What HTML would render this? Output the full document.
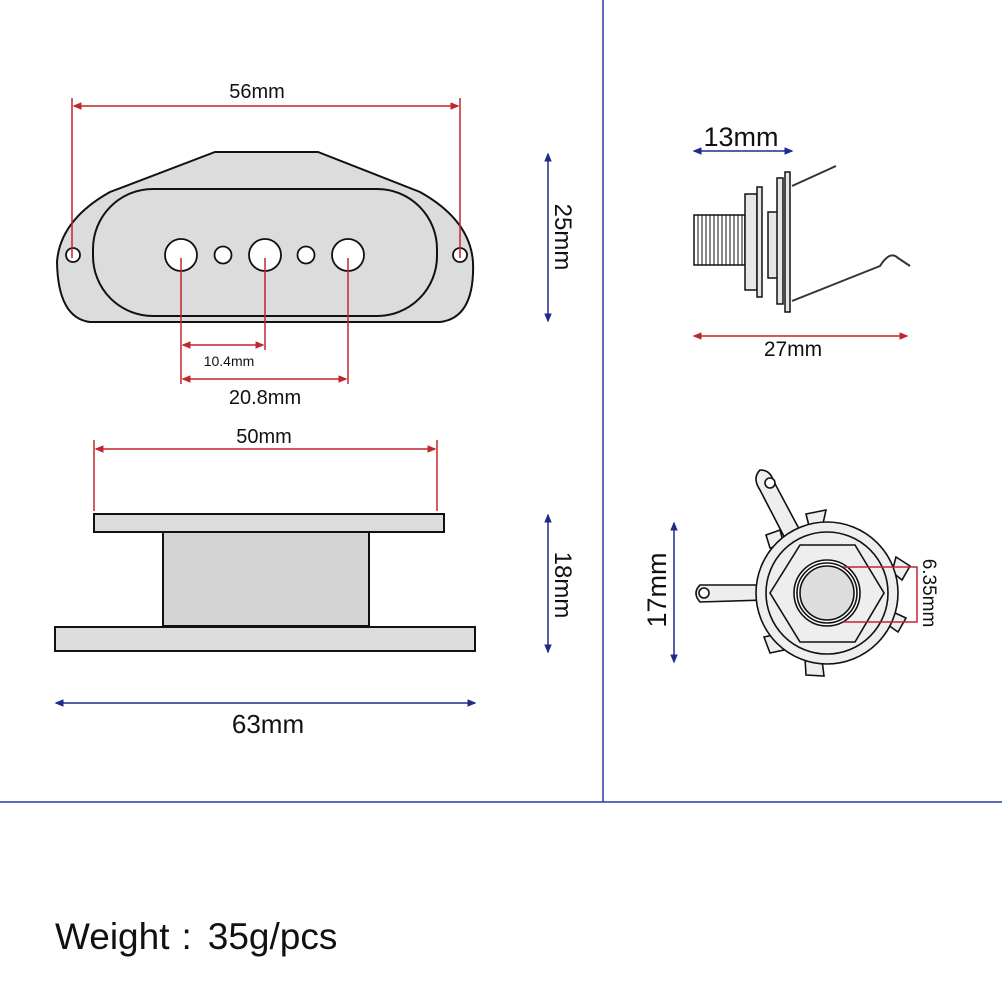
<!DOCTYPE html>
<html><head><meta charset="utf-8"><style>
html,body{margin:0;padding:0;background:#fff;}
svg{display:block;}
text{font-family:"Liberation Sans","DejaVu Sans",sans-serif;fill:#111;}
</style></head><body>
<svg width="1002" height="1002" viewBox="0 0 1002 1002" xmlns="http://www.w3.org/2000/svg">
<defs>
<marker id="ar" markerWidth="6" markerHeight="5" refX="5" refY="2.5" orient="auto-start-reverse"><path d="M0,0 L6,2.5 L0,5z" fill="#c0272d"/></marker>
<marker id="ab" markerWidth="6" markerHeight="5" refX="5" refY="2.5" orient="auto-start-reverse"><path d="M0,0 L6,2.5 L0,5z" fill="#1f2a8a"/></marker>
</defs>
<line x1="603" y1="0" x2="603" y2="802" stroke="#2b3aa8" stroke-width="1.5"/>
<line x1="0" y1="802" x2="1002" y2="802" stroke="#2b3aa8" stroke-width="1.5"/>

<path d="M215,152 L318,152 L420,192 Q470,220 473,262 Q475,318 440,322 L90,322 Q58,318 57,262 Q60,220 110,192 Z" fill="#dcdcdc" stroke="#111" stroke-width="2"/>
<rect x="93" y="189" width="344" height="127" rx="60" fill="#dcdcdc" stroke="#111" stroke-width="2"/>
<g fill="#fff" stroke="#111" stroke-width="1.8">
<circle cx="181" cy="255" r="16"/><circle cx="265" cy="255" r="16"/><circle cx="348" cy="255" r="16"/>
<circle cx="223" cy="255" r="8.5"/><circle cx="306" cy="255" r="8.5"/>
<circle cx="73" cy="255" r="7"/><circle cx="460" cy="255" r="7"/>
</g>
<g stroke="#c0272d" stroke-width="1.5" fill="none">
<line x1="72" y1="98" x2="72" y2="258"/><line x1="460" y1="98" x2="460" y2="258"/>
<line x1="74" y1="106" x2="458" y2="106" marker-start="url(#ar)" marker-end="url(#ar)"/>
<line x1="181" y1="258" x2="181" y2="384"/><line x1="265" y1="258" x2="265" y2="350"/><line x1="348" y1="258" x2="348" y2="384"/>
<line x1="183" y1="345" x2="263" y2="345" marker-start="url(#ar)" marker-end="url(#ar)"/>
<line x1="183" y1="379" x2="346" y2="379" marker-start="url(#ar)" marker-end="url(#ar)"/>
</g>
<text x="257" y="98" font-size="20" text-anchor="middle">56mm</text>
<text x="229" y="366" font-size="14" text-anchor="middle">10.4mm</text>
<text x="265" y="404" font-size="20" text-anchor="middle">20.8mm</text>
<line x1="548" y1="154" x2="548" y2="321" stroke="#1f2a8a" stroke-width="1.5" marker-start="url(#ab)" marker-end="url(#ab)"/>
<text transform="translate(555,237) rotate(90)" font-size="24" text-anchor="middle">25mm</text>

<rect x="94" y="514" width="350" height="18" fill="#dcdcdc" stroke="#111" stroke-width="2"/>
<rect x="163" y="532" width="206" height="94" fill="#d4d4d4" stroke="#111" stroke-width="2"/>
<rect x="55" y="627" width="420" height="24" fill="#dcdcdc" stroke="#111" stroke-width="2"/>
<g stroke="#c0272d" stroke-width="1.5">
<line x1="94" y1="440" x2="94" y2="511"/><line x1="437" y1="440" x2="437" y2="511"/>
<line x1="96" y1="449" x2="435" y2="449" marker-start="url(#ar)" marker-end="url(#ar)"/>
</g>
<text x="264" y="443" font-size="20" text-anchor="middle">50mm</text>
<line x1="548" y1="515" x2="548" y2="652" stroke="#1f2a8a" stroke-width="1.5" marker-start="url(#ab)" marker-end="url(#ab)"/>
<text transform="translate(555,585) rotate(90)" font-size="24" text-anchor="middle">18mm</text>
<line x1="56" y1="703" x2="475" y2="703" stroke="#1f2a8a" stroke-width="1.5" marker-start="url(#ab)" marker-end="url(#ab)"/>
<text x="268" y="733" font-size="26" text-anchor="middle">63mm</text>

<line x1="694" y1="151" x2="792" y2="151" stroke="#1f2a8a" stroke-width="1.5" marker-start="url(#ab)" marker-end="url(#ab)"/>
<text x="741" y="146" font-size="27" text-anchor="middle">13mm</text>
<rect x="694" y="215" width="51" height="50" fill="#fff" stroke="#111" stroke-width="1.5"/>
<g stroke="#111" stroke-width="1">
<line x1="698" y1="215" x2="698" y2="265"/><line x1="702" y1="215" x2="702" y2="265"/><line x1="706" y1="215" x2="706" y2="265"/><line x1="710" y1="215" x2="710" y2="265"/><line x1="714" y1="215" x2="714" y2="265"/><line x1="718" y1="215" x2="718" y2="265"/><line x1="722" y1="215" x2="722" y2="265"/><line x1="726" y1="215" x2="726" y2="265"/><line x1="730" y1="215" x2="730" y2="265"/><line x1="734" y1="215" x2="734" y2="265"/><line x1="738" y1="215" x2="738" y2="265"/><line x1="742" y1="215" x2="742" y2="265"/>
</g>
<g fill="#e6e6e6" stroke="#111" stroke-width="1.5">
<rect x="745" y="194" width="12" height="96"/>
<rect x="757" y="187" width="5" height="110"/>
<rect x="768" y="212" width="10" height="66"/>
<rect x="777" y="178" width="6" height="126"/>
<rect x="785" y="172" width="5" height="140"/>
</g>
<g stroke="#333" stroke-width="2" fill="none">
<path d="M792,186 L836,166"/>
<path d="M792,301 L880,266 Q890,250 898,258 L910,266"/>
</g>
<line x1="694" y1="336" x2="907" y2="336" stroke="#c0272d" stroke-width="1.5" marker-start="url(#ar)" marker-end="url(#ar)"/>
<text x="793" y="356" font-size="21" text-anchor="middle">27mm</text>

<g fill="#eee" stroke="#111" stroke-width="1.6">
<path d="M760,470 Q770,470 773,480 L805,540 L790,548 L760,490 Q752,478 760,470z"/>
<path d="M700,585 Q692,593 700,602 L765,600 L765,585z"/>
<polygon points="806,514 826,510 822,528 810,530"/>
<polygon points="766,535 780,530 784,545 770,548"/>
<polygon points="896,557 910,566 902,580 892,572"/>
<polygon points="893,612 906,618 898,632 888,625"/>
<polygon points="764,637 778,634 784,650 770,653"/>
<polygon points="805,658 822,660 824,676 806,675"/>
<circle cx="827" cy="593" r="71"/>
<circle cx="827" cy="593" r="61"/>
<polygon points="770,593 800,545 855,545 884,593 855,642 800,642"/>
<circle cx="827" cy="593" r="33" fill="#fff"/>
<circle cx="827" cy="593" r="30" fill="#fff"/>
<circle cx="827" cy="593" r="27" fill="#ddd"/>
<circle cx="770" cy="483" r="5" fill="#fff"/>
<circle cx="704" cy="593" r="5" fill="#fff"/>
</g>
<path d="M843,567 L917,567 L917,622 L843,622" fill="none" stroke="#c0272d" stroke-width="1.5"/>
<text transform="translate(923,593) rotate(90)" font-size="19" text-anchor="middle">6.35mm</text>
<line x1="674" y1="523" x2="674" y2="662" stroke="#1f2a8a" stroke-width="1.5" marker-start="url(#ab)" marker-end="url(#ab)"/>
<text transform="translate(666,590) rotate(-90)" font-size="27" text-anchor="middle">17mm</text>

<text x="55" y="949" font-size="37">Weight<tspan dx="12">:</tspan><tspan dx="16">35g/pcs</tspan></text>
</svg>
</body></html>
